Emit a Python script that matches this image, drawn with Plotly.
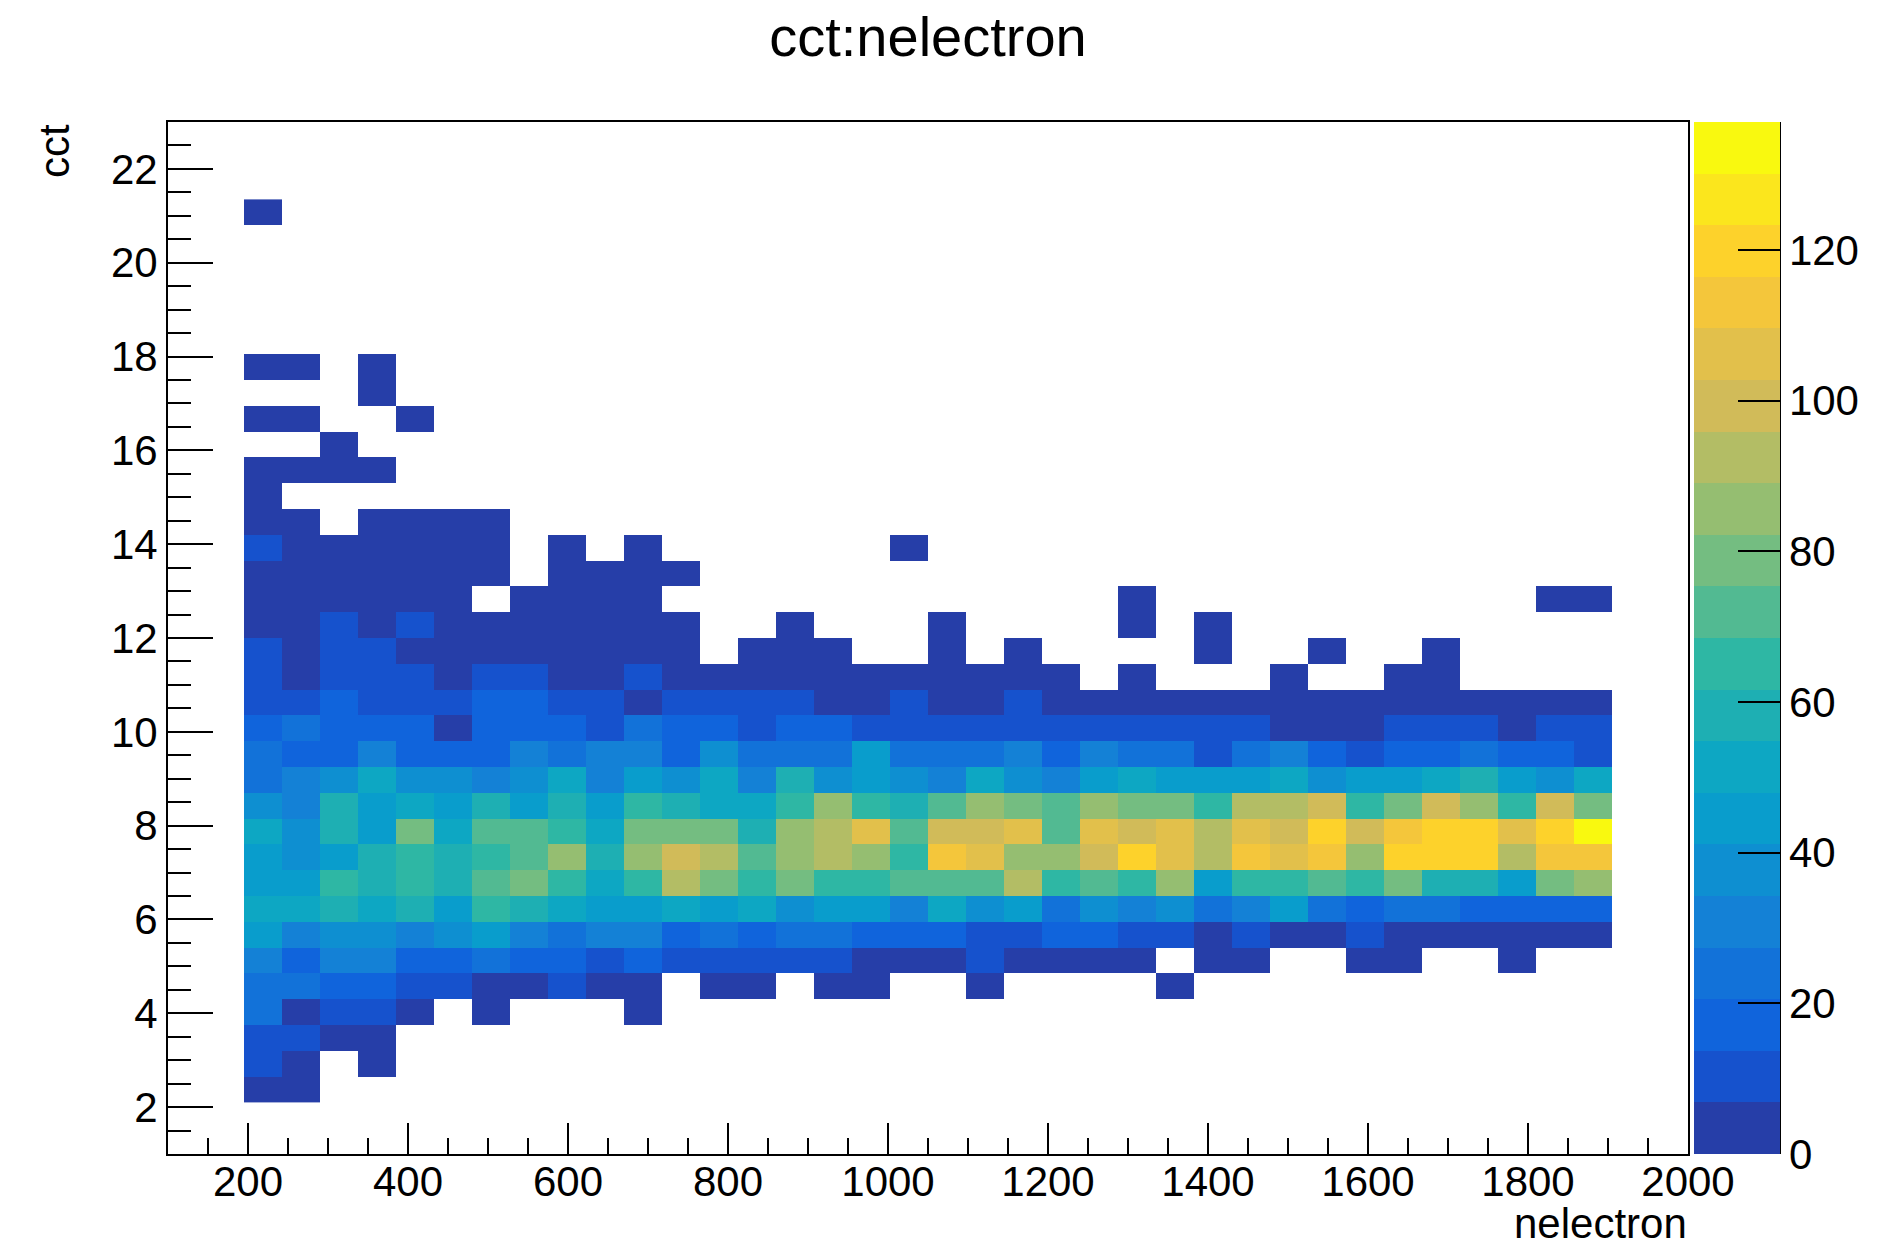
import plotly.graph_objects as go

_ = None

# ---- binning of the TH2 (nelectron: 40 bins 100..2000, cct: 40 bins 1..23) ----
x_first_center = 218.75   # first filled nelectron bin [195, 242.5]
x_bin_width = 47.5
y_first_center = 2.375    # first filled cct bin [2.1, 2.65]
y_bin_width = 0.55

# ---- bin contents, one row per cct bin (bottom -> top), 36 nelectron bins each ----
counts = [
    [3, 3, _, _, _, _, _, _, _, _, _, _, _, _, _, _, _, _, _, _, _, _, _, _, _, _, _, _, _, _, _, _, _, _, _, _],
    [10, 3, _, 3, _, _, _, _, _, _, _, _, _, _, _, _, _, _, _, _, _, _, _, _, _, _, _, _, _, _, _, _, _, _, _, _],
    [10, 10, 3, 3, _, _, _, _, _, _, _, _, _, _, _, _, _, _, _, _, _, _, _, _, _, _, _, _, _, _, _, _, _, _, _, _],
    [24, 3, 10, 10, 3, _, 3, _, _, _, 3, _, _, _, _, _, _, _, _, _, _, _, _, _, _, _, _, _, _, _, _, _, _, _, _, _],
    [24, 24, 17, 17, 10, 10, 3, 3, 10, 3, 3, _, 3, 3, _, 3, 3, _, _, 3, _, _, _, _, 3, _, _, _, _, _, _, _, _, _, _, _],
    [31, 17, 31, 31, 17, 17, 24, 17, 17, 10, 17, 10, 10, 10, 10, 10, 3, 3, 3, 10, 3, 3, 3, 3, _, 3, 3, _, _, 3, 3, _, _, 3, _, _],
    [45, 31, 38, 38, 31, 38, 45, 31, 24, 31, 31, 17, 24, 17, 24, 24, 17, 17, 17, 10, 10, 17, 17, 10, 10, 3, 10, 3, 3, 10, 3, 3, 3, 3, 3, 3],
    [51, 51, 58, 51, 58, 45, 65, 58, 51, 45, 45, 51, 45, 51, 38, 45, 45, 31, 51, 38, 45, 24, 38, 31, 38, 24, 31, 45, 24, 17, 24, 24, 17, 17, 17, 17],
    [45, 45, 65, 58, 65, 58, 72, 79, 65, 51, 65, 93, 79, 65, 79, 65, 65, 72, 72, 72, 93, 65, 72, 65, 86, 45, 65, 65, 72, 65, 79, 58, 58, 45, 79, 86],
    [45, 38, 45, 58, 65, 58, 65, 72, 86, 58, 86, 99, 93, 72, 86, 93, 86, 65, 113, 106, 86, 86, 99, 120, 106, 93, 113, 106, 113, 86, 120, 120, 120, 93, 113, 113],
    [51, 38, 58, 45, 79, 51, 72, 72, 65, 51, 79, 79, 79, 58, 86, 93, 106, 72, 99, 99, 106, 72, 106, 99, 106, 93, 106, 99, 120, 99, 113, 120, 120, 106, 120, 137],
    [38, 31, 58, 45, 51, 45, 58, 45, 58, 45, 65, 58, 51, 51, 65, 86, 65, 58, 72, 86, 79, 72, 86, 79, 79, 65, 93, 93, 99, 65, 79, 99, 86, 65, 99, 79],
    [24, 31, 38, 51, 38, 38, 31, 38, 51, 31, 45, 38, 51, 31, 58, 38, 45, 38, 31, 51, 38, 31, 45, 51, 45, 45, 45, 51, 38, 45, 45, 51, 58, 45, 38, 51],
    [24, 17, 17, 31, 17, 17, 17, 31, 24, 31, 31, 17, 38, 24, 24, 24, 45, 24, 24, 24, 31, 17, 31, 24, 24, 10, 24, 31, 17, 10, 17, 17, 24, 17, 17, 10],
    [17, 24, 17, 17, 17, 3, 17, 17, 17, 10, 24, 17, 17, 10, 17, 17, 10, 10, 10, 10, 10, 10, 10, 10, 10, 10, 10, 3, 3, 3, 10, 10, 10, 3, 10, 10],
    [10, 10, 17, 10, 10, 10, 17, 17, 10, 10, 3, 10, 10, 10, 10, 3, 3, 10, 3, 3, 10, 3, 3, 3, 3, 3, 3, 3, 3, 3, 3, 3, 3, 3, 3, 3],
    [10, 3, 10, 10, 10, 3, 10, 10, 3, 3, 10, 3, 3, 3, 3, 3, 3, 3, 3, 3, 3, 3, _, 3, _, _, _, 3, _, _, 3, 3, _, _, _, _],
    [10, 3, 10, 10, 3, 3, 3, 3, 3, 3, 3, 3, _, 3, 3, 3, _, _, 3, _, 3, _, _, _, _, 3, _, _, 3, _, _, 3, _, _, _, _],
    [3, 3, 10, 3, 10, 3, 3, 3, 3, 3, 3, 3, _, _, 3, _, _, _, 3, _, _, _, _, 3, _, 3, _, _, _, _, _, _, _, _, _, _],
    [3, 3, 3, 3, 3, 3, _, 3, 3, 3, 3, _, _, _, _, _, _, _, _, _, _, _, _, 3, _, _, _, _, _, _, _, _, _, _, 3, 3],
    [3, 3, 3, 3, 3, 3, 3, _, 3, 3, 3, 3, _, _, _, _, _, _, _, _, _, _, _, _, _, _, _, _, _, _, _, _, _, _, _, _],
    [10, 3, 3, 3, 3, 3, 3, _, 3, _, 3, _, _, _, _, _, _, 3, _, _, _, _, _, _, _, _, _, _, _, _, _, _, _, _, _, _],
    [3, 3, _, 3, 3, 3, 3, _, _, _, _, _, _, _, _, _, _, _, _, _, _, _, _, _, _, _, _, _, _, _, _, _, _, _, _, _],
    [3, _, _, _, _, _, _, _, _, _, _, _, _, _, _, _, _, _, _, _, _, _, _, _, _, _, _, _, _, _, _, _, _, _, _, _],
    [3, 3, 3, 3, _, _, _, _, _, _, _, _, _, _, _, _, _, _, _, _, _, _, _, _, _, _, _, _, _, _, _, _, _, _, _, _],
    [_, _, 3, _, _, _, _, _, _, _, _, _, _, _, _, _, _, _, _, _, _, _, _, _, _, _, _, _, _, _, _, _, _, _, _, _],
    [3, 3, _, _, 3, _, _, _, _, _, _, _, _, _, _, _, _, _, _, _, _, _, _, _, _, _, _, _, _, _, _, _, _, _, _, _],
    [_, _, _, 3, _, _, _, _, _, _, _, _, _, _, _, _, _, _, _, _, _, _, _, _, _, _, _, _, _, _, _, _, _, _, _, _],
    [3, 3, _, 3, _, _, _, _, _, _, _, _, _, _, _, _, _, _, _, _, _, _, _, _, _, _, _, _, _, _, _, _, _, _, _, _],
    [_] * 36,
    [_] * 36,
    [_] * 36,
    [_] * 36,
    [_] * 36,
    [3, _, _, _, _, _, _, _, _, _, _, _, _, _, _, _, _, _, _, _, _, _, _, _, _, _, _, _, _, _, _, _, _, _, _, _],
]

z_min = 0
z_max = 137
n_contours = 20
x_range = [100, 2000]
y_range = [1, 23]
colorbar_ticks = [0, 20, 40, 60, 80, 100, 120]

# ---- ROOT kBird palette (255 colours) sampled the way COLZ does for 20 contours ----
stops = [0.0, 0.125, 0.25, 0.375, 0.5, 0.625, 0.75, 0.875, 1.0]
red = [0.2082, 0.0592, 0.0780, 0.0232, 0.1802, 0.5301, 0.8186, 0.9956, 0.9764]
green = [0.1664, 0.3599, 0.5041, 0.6419, 0.7178, 0.7492, 0.7328, 0.7862, 0.9832]
blue = [0.5293, 0.8684, 0.8385, 0.7914, 0.6425, 0.4662, 0.3499, 0.1968, 0.0539]


def bird_table(n=255):
    table = []
    for g in range(1, len(stops)):
        ng = int(int(n * stops[g]) - int(n * stops[g - 1]))
        for c in range(ng):
            t = c / ng
            table.append((red[g - 1] + t * (red[g] - red[g - 1]),
                          green[g - 1] + t * (green[g] - green[g - 1]),
                          blue[g - 1] + t * (blue[g] - blue[g - 1])))
    return table


table = bird_table()
level_colors = []
for i in range(n_contours):
    j = min(int((i + 0.99) * len(table) / n_contours), len(table) - 1)
    r, g, b = table[j]
    level_colors.append("rgb(%d,%d,%d)" % (round(r * 255), round(g * 255), round(b * 255)))

colorscale = []
for i, col in enumerate(level_colors):
    colorscale.append([i / n_contours, col])
    colorscale.append([(i + 1) / n_contours, col])

FONT = "Liberation Sans, Arial, Helvetica, sans-serif"

# geometry (pixels)
W, H = 1881, 1249
left, right, top, bottom = 168, 1688, 122, 1154
pw = right - left
ph = bottom - top
bar_left, bar_right = 1694, 1780

fig = go.Figure()
fig.add_trace(go.Heatmap(
    z=counts,
    x0=x_first_center, dx=x_bin_width,
    y0=y_first_center, dy=y_bin_width,
    zmin=z_min, zmax=z_max,
    colorscale=colorscale,
    hoverongaps=False,
    colorbar=dict(
        thicknessmode="pixels", thickness=bar_right - bar_left,
        lenmode="fraction", len=1.0,
        x=(bar_left - left) / pw, xanchor="left",
        y=0.5, yanchor="middle",
        xpad=0, ypad=0,
        outlinewidth=0,
        tickmode="array", tickvals=colorbar_ticks,
        ticks="inside", ticklen=42, tickwidth=2, tickcolor="black",
        tickfont=dict(family=FONT, size=42, color="black"),
    ),
))

axis_common = dict(
    showgrid=False, zeroline=False,
    showline=True, linewidth=2, linecolor="black", mirror=True,
    ticks="inside", tickwidth=2, tickcolor="black",
    tickfont=dict(family=FONT, size=42, color="black"),
)

fig.update_layout(
    width=W, height=H, autosize=False,
    margin=dict(l=left, r=W - right, t=top, b=H - bottom, pad=0, autoexpand=False),
    paper_bgcolor="white", plot_bgcolor="white",
    font=dict(family=FONT, color="black"),
    showlegend=False,
    title=dict(text="cct:nelectron", x=928 / W, xanchor="center",
               y=1 - 36 / H, yanchor="middle", xref="container",
               yref="container", font=dict(family=FONT, size=56, color="black")),
    xaxis=dict(range=x_range, tickmode="linear", tick0=0, dtick=200, ticklen=31,
               ticklabelstandoff=-10,
               minor=dict(tick0=0, dtick=50, ticks="inside", ticklen=16, tickwidth=2,
                          tickcolor="black", showgrid=False),
               **axis_common),
    yaxis=dict(range=y_range, tickmode="linear", tick0=0, dtick=2, ticklen=45,
               minor=dict(tick0=0, dtick=0.5, ticks="inside", ticklen=23, tickwidth=2,
                          tickcolor="black", showgrid=False),
               **axis_common),
    annotations=[
        dict(text="nelectron", xref="paper", yref="paper", x=1.0, xanchor="right",
             y=(bottom - 1223) / ph, yanchor="middle", showarrow=False, borderpad=0,
             font=dict(family=FONT, size=42, color="black")),
        dict(text="cct", xref="paper", yref="paper", x=(54 - left) / pw, xanchor="center",
             y=1.0, yanchor="top", textangle=-90, showarrow=False,
             font=dict(family=FONT, size=42, color="black")),
    ],
    shapes=[
        dict(type="line", xref="paper", yref="paper",
             x0=(bar_right - left) / pw, x1=(bar_right - left) / pw, y0=0, y1=1,
             line=dict(color="black", width=2)),
    ],
)

fig.write_html("out.html")
